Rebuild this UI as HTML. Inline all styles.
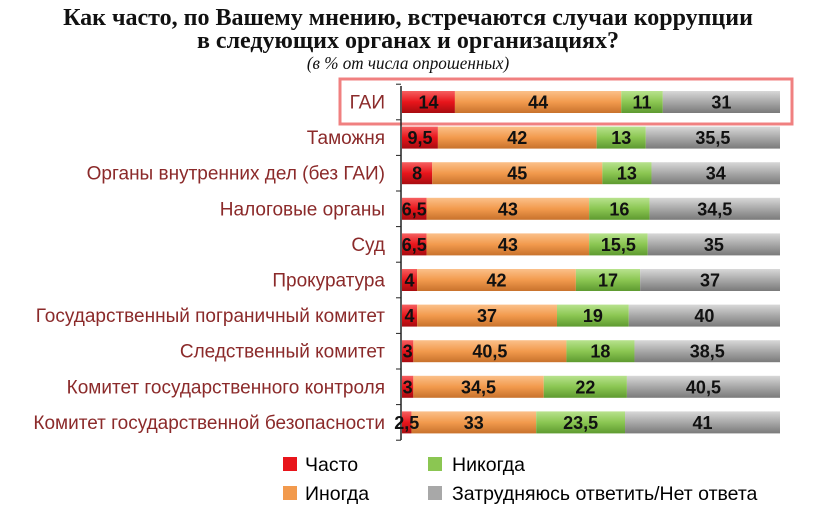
<!DOCTYPE html><html><head><meta charset="utf-8"><style>body{margin:0;background:#fff}</style></head><body>
<svg width="820" height="513" xmlns="http://www.w3.org/2000/svg" font-family="Liberation Sans, sans-serif">
<defs>
<linearGradient id="r" x1="0" y1="0" x2="0" y2="1"><stop offset="0" stop-color="#f56060"/><stop offset=".5" stop-color="#e8151b"/><stop offset="1" stop-color="#a80c10"/></linearGradient>
<linearGradient id="o" x1="0" y1="0" x2="0" y2="1"><stop offset="0" stop-color="#fbc08a"/><stop offset=".5" stop-color="#f29a4d"/><stop offset="1" stop-color="#c8722c"/></linearGradient>
<linearGradient id="g" x1="0" y1="0" x2="0" y2="1"><stop offset="0" stop-color="#b8e28e"/><stop offset=".5" stop-color="#8bc652"/><stop offset="1" stop-color="#5e9a30"/></linearGradient>
<linearGradient id="s" x1="0" y1="0" x2="0" y2="1"><stop offset="0" stop-color="#d8d8d8"/><stop offset=".5" stop-color="#a8a8a8"/><stop offset="1" stop-color="#7a7a7a"/></linearGradient>
</defs>
<g font-family="Liberation Serif, serif" font-weight="bold" text-anchor="middle" fill="#111">
<text x="408" y="25" font-size="24">Как часто, по Вашему мнению, встречаются случаи коррупции</text>
<text x="408" y="48" font-size="24">в следующих органах и организациях?</text>
<text x="408" y="69" font-size="18" font-weight="normal" font-style="italic" transform="translate(408 0) scale(0.95 1) translate(-408 0)">(в % от числа опрошенных)</text>
</g>
<rect x="340" y="79" width="452" height="45" fill="none" stroke="#f08080" stroke-width="3"/>
<line x1="401" y1="86" x2="401" y2="440" stroke="#222" stroke-width="1.5"/>
<g id="bars"></g>
<g font-size="19.5">
<rect x="283" y="457" width="14" height="14" fill="#e8151b"/><text x="305" y="471">Часто</text>
<rect x="283" y="486" width="14" height="14" fill="#f29a4d"/><text x="305" y="500">Иногда</text>
<rect x="428" y="457" width="14" height="14" fill="#8bc652"/><text x="452" y="471">Никогда</text>
<rect x="428" y="486" width="14" height="14" fill="#a8a8a8"/><text x="452" y="500">Затрудняюсь ответить/Нет ответа</text>
</g>
</svg>
<script>
const d=[["ГАИ",14,44,11,31],["Таможня",9.5,42,13,35.5],["Органы внутренних дел (без ГАИ)",8,45,13,34],["Налоговые органы",6.5,43,16,34.5],["Суд",6.5,43,15.5,35],["Прокуратура",4,42,17,37],["Государственный пограничный комитет",4,37,19,40],["Следственный комитет",3,40.5,18,38.5],["Комитет государственного контроля",3,34.5,22,40.5],["Комитет государственной безопасности",2.5,33,23.5,41]];
const f=["url(#r)","url(#o)","url(#g)","url(#s)"];let h="";
d.forEach((r,i)=>{const cy=102+i*35.6;let x=402;
h+=`<text x="385" y="${cy+6.5}" font-size="19" text-anchor="end" fill="#8b2a2a">${r[0]}</text>`;
h+=`<line x1="396" y1="${cy+17.8}" x2="401" y2="${cy+17.8}" stroke="#222"/>`;
for(let k=0;k<4;k++){const w=r[k+1]*3.78;h+=`<rect x="${x}" y="${cy-11}" width="${w}" height="22" fill="${f[k]}"/>`;x+=w;}
x=402;for(let k=0;k<4;k++){const w=r[k+1]*3.78;h+=`<text x="${x+w/2}" y="${cy+6.5}" font-size="18" font-weight="bold" text-anchor="middle" fill="#111">${String(r[k+1]).replace('.',',')}</text>`;x+=w;}});
h+=`<line x1="396" y1="84.2" x2="401" y2="84.2" stroke="#222"/>`;
document.getElementById("bars").innerHTML=h;
</script>
</body></html>
